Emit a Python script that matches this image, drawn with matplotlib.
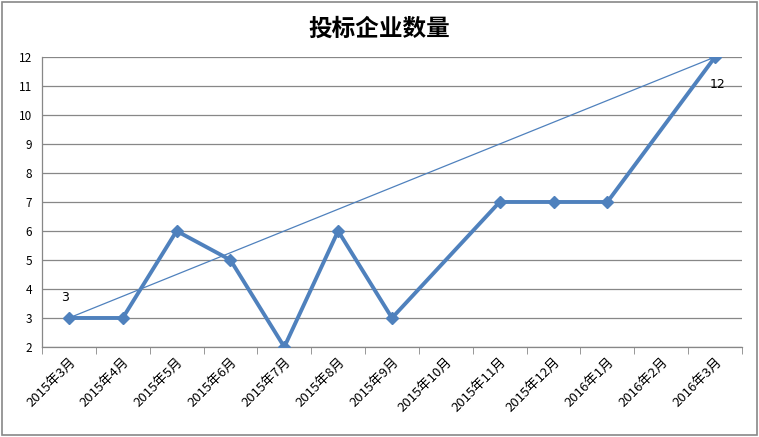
import numpy as np
import matplotlib
matplotlib.use("Agg")
import matplotlib.pyplot as plt
from matplotlib.patches import Rectangle

plt.rcParams['font.family'] = ['Noto Sans CJK SC', 'DejaVu Sans']

months = ['2015年3月', '2015年4月', '2015年5月', '2015年6月', '2015年7月',
          '2015年8月', '2015年9月', '2015年10月', '2015年11月', '2015年12月',
          '2016年1月', '2016年2月', '2016年3月']
counts = [3, 3, 6, 5, 2, 6, 3, np.nan, 7, 7, 7, np.nan, 12]
title = '投标企业数量'
blue = '#4F81BD'
grid_c = '#878787'

fig = plt.figure(figsize=(7.59, 4.37), dpi=100)
fig.patches.append(Rectangle((0.003, 0.004), 0.994, 0.992, transform=fig.transFigure,
                             fill=False, edgecolor='#888888', lw=1.2))
ax = fig.add_axes([0.0553, 0.206, 0.9223, 0.6636])

x = np.arange(len(months))
y = np.array(counts, dtype=float)
ok = ~np.isnan(y)

# straight line first -> last point
ax.plot([x[ok][0], x[ok][-1]], [y[ok][0], y[ok][-1]], color=blue, lw=0.9, zorder=3)
ax.plot(x[ok], y[ok], color=blue, lw=2.8, marker='D', ms=6.5, zorder=4)

ax.text(x[0] - 0.07, y[0] + 0.7, '%d' % y[0], fontsize=9, ha='center', va='center',
        family=['DejaVu Sans'])
ax.text(x[-1] + 0.05, y[-1] - 0.95, '%d' % y[-1], fontsize=9, ha='center', va='center',
        family=['DejaVu Sans'])

ax.set_xlim(-0.5, len(months) - 0.5)
ax.set_ylim(2, 12)
ax.set_yticks(range(2, 13))
ax.yaxis.grid(True, color=grid_c, lw=0.9)
ax.set_axisbelow(True)
ax.tick_params(axis='y', length=0, labelsize=8.5, pad=7)
ax.set_xticks(x)
ax.set_xticklabels(months, rotation=45, ha='right', rotation_mode='anchor', fontsize=9.5)
ax.tick_params(axis='x', length=0, pad=6)
ax.set_xticks(np.arange(-0.5, len(months)), minor=True)
ax.tick_params(axis='x', which='minor', length=5, color=grid_c, direction='out')
for s in ['top', 'right']:
    ax.spines[s].set_visible(False)
for s in ['left', 'bottom']:
    ax.spines[s].set_color(grid_c)
    ax.spines[s].set_linewidth(0.9)

fig.text(0.5, 0.935, title, ha='center', va='center', fontsize=17, fontweight='bold')

fig.savefig('out.png', dpi=100)
